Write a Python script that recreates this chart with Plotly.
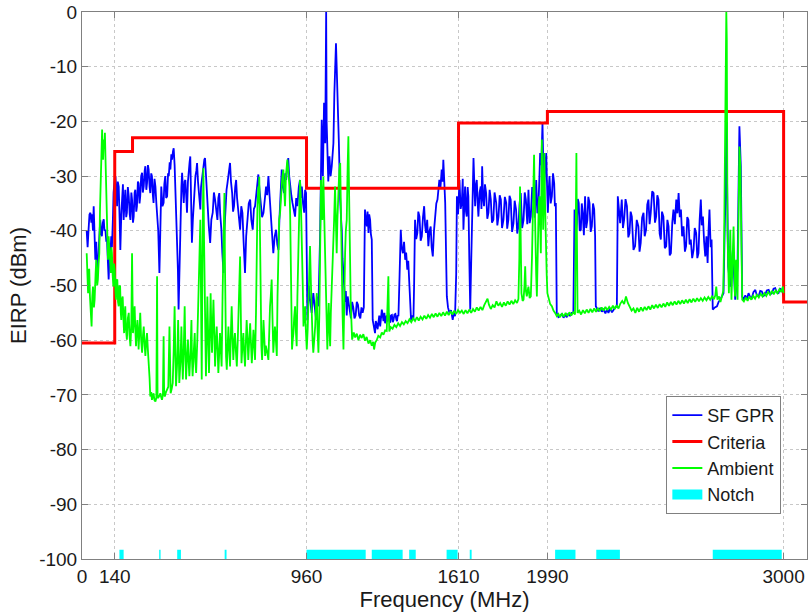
import plotly.graph_objects as go

# ---------------- data ----------------
# Criteria limit (step line, values hold until next frequency)
crit_freq = [0, 140, 216, 960, 1610, 1990, 3000, 3100]
crit_dbm = [-60.5, -25.5, -23.0, -32.2, -20.3, -18.2, -53.0, -53.0]

# Notch bands (MHz) and their bar top (dBm)
notch_start = [160, 330, 407, 610, 960, 1239, 1399, 1559, 1658, 2023, 2199, 2697]
notch_end = [178, 336, 423, 618, 1213, 1371, 1427, 1606, 1666, 2110, 2300, 2992]
notch_top = -98.3
axis_floor = -100

# SF GPR measured EIRP (MHz, dBm)
gpr_points = [
    (20,-40),(24,-43),(28,-39.8),(32,-37),(36,-36.7),(40,-38.5),(43,-37),(47,-40),(50,-35.5),(54,-41),
    (57,-45.3),(61,-42),(64,-48.9),(68,-46),(71,-44),(75,-40),(78,-38),(82,-40.5),(85,-41),(89,-38.5),
    (93,-37.9),(96,-40),(100,-39.8),(104,-42),(107,-41.6),(111,-46),(114,-48.9),(118,-44),(121,-45),
    (125,-41),(128,-43),(132,-38),(135,-33),(140,-30.5),(143,-30),(147,-33),(150,-35.5),(153,-31),
    (157,-31.9),(161,-38),(164,-43.5),(168,-37),(171,-34.9),(175,-31.5),(178,-38),(182,-35),
    (185,-32.5),(189,-37.5),(192,-36.7),(196,-32),(200,-33.7),(204,-37),(207,-38),(211,-33),
    (214,-34.3),(218,-38.5),(221,-37.4),(225,-33),(228,-32.5),(232,-36.5),(235,-35.5),(239,-31),
    (242,-31.3),(246,-35),(249,-33.7),(253,-30),(257,-29.4),(260,-33),(264,-31.9),(268,-29),(271,-28.2),
    (275,-32.5),(278,-31.3),(282,-28),(285,-28.8),(289,-32),(292,-33.1),(296,-29.5),(299,-30),
    (303,-33.5),(306,-34.9),(310,-30.5),(314,-31.9),(318,-35),(321,-36.7),(326,-40),(331,-47.7),
    (335,-38),(339,-31.9),(344,-35.5),(349,-34.9),(352,-31.5),(356,-30),(360,-34),(364,-33.7),
    (368,-29.5),(371,-30),(375,-27.5),(378,-28.8),(382,-26),(385,-27),(389,-25.5),(392,-24.9),
    (396,-28),(399,-31.9),(403,-36),(406,-39.8),(410,-47),(413,-54.4),(417,-45),(421,-38),(425,-32),
    (428,-29.4),(432,-33),(435,-34.9),(439,-31),(442,-30.7),(446,-34),(449,-36.7),(453,-31),
    (456,-28.8),(460,-27.5),(463,-26.4),(467,-34),(470,-42.2),(474,-38),(478,-34.9),(482,-31),
    (485,-30),(489,-29),(492,-27.6),(496,-31),(499,-33.1),(503,-35),(506,-36.1),(509,-32),(512,-30.7),
    (516,-29),(519,-28),(523,-27),(526,-26.7),(531,-31),(536,-34.9),(542,-39),(548,-42.2),(553,-38),
    (559,-36.7),(564,-33),(569,-34.3),(574,-37),(579,-38),(583,-34),(587,-33.1),(591,-37),(596,-39.8),
    (600,-44),(605,-47.7),(609,-40),(613,-34.9),(618,-32.5),(622,-31.3),(627,-29),(633,-27.6),
    (637,-31),(642,-33.1),(646,-36.5),(650,-35.5),(655,-32),(659,-30.7),(663,-34),(667,-35.5),
    (672,-38.5),(676,-39.8),(681,-35.5),(686,-36.7),(691,-42),(697,-47.7),(702,-41),(707,-38),
    (713,-35),(719,-34.3),(724,-38),(730,-39.8),(735,-36),(740,-35.5),(747,-32),(754,-29.7),
    (759,-32.5),(764,-34.3),(770,-37.5),(776,-36.7),(782,-33),(787,-31.9),(792,-33.5),(797,-30),
    (802,-33.5),(807,-36.7),(812,-40.5),(818,-44.1),(824,-41),(830,-39.8),(835,-42.5),(840,-43.5),
    (844,-38),(847,-34.9),(851,-30.5),(854,-28.8),(859,-32),(864,-33.1),(869,-29.5),(873,-30.7),
    (878,-28),(882,-26.7),(886,-30),(890,-31.9),(895,-33.5),(900,-34.9),(905,-36),(911,-37.4),
    (916,-34),(921,-35.5),(927,-32),(932,-30.7),(936,-34),(940,-31.9),(945,-35),(950,-36.7),
    (954,-32.5),(958,-33.1),(964,-56.3),(970,-50),(975,-52.6),(982,-55),(989,-51.4),(995,-54),
    (1001,-56.3),(1006,-52),(1011,-53.8),(1018,-41),(1025,-19.7),(1030,-30),(1035,-16.6),(1040,-24),
    (1044,0),(1046,-20),(1049,-28.2),(1053,-31),(1058,-26.4),(1063,-30),(1068,-28.2),(1071,-26),
    (1075,-24),(1079,-15),(1082,-9.9),(1086,-5.7),(1089,-10),(1092,-13),(1095,-19),(1098,-23.3),
    (1101,-30),(1104,-34.3),(1108,-38),(1111,-40),(1114,-45),(1118,-48),(1121,-51),(1125,-53),
    (1128,-51),(1132,-55.5),(1136,-52),(1140,-53),(1145,-55),(1150,-56),(1155,-53),(1160,-54),
    (1165,-56),(1170,-55.5),(1175,-53),(1180,-53.5),(1185,-55.5),(1190,-56),(1195,-54),(1200,-55),
    (1205,-54),(1208,-45),(1210,-36.1),(1214,-38),(1218,-39.2),(1221,-36.5),(1225,-40.4),(1228,-37),
    (1232,-38),(1235,-40.5),(1239,-41.6),(1243,-56.3),(1248,-57.5),(1253,-58.7),(1256,-56.5),
    (1260,-57),(1264,-58),(1267,-56.3),(1271,-55.5),(1275,-57.5),(1279,-56),(1282,-54.4),(1286,-55.5),
    (1289,-56.5),(1293,-55),(1296,-56.9),(1300,-56),(1303,-55.5),(1306,-56.6),(1310,-55),(1314,-56),
    (1318,-56.8),(1321,-55.5),(1325,-55.4),(1329,-56.7),(1332,-56.3),(1336,-55.3),(1340,-55.2),
    (1344,-56.2),(1347,-56.5),(1350,-55.4),(1353,-55.6),(1358,-48),(1363,-39.8),(1367,-43),
    (1372,-44.1),(1377,-42),(1382,-45.3),(1386,-44),(1391,-47.1),(1395,-45.5),(1400,-50.2),
    (1404,-53),(1407,-56.3),(1412,-55.5),(1417,-56.3),(1420,-50),(1424,-38),(1429,-41.5),(1434,-40.4),
    (1438,-36.5),(1443,-37.4),(1448,-41.8),(1453,-41),(1458,-37.5),(1463,-35.5),(1467,-39),
    (1471,-40.4),(1476,-38),(1481,-42.8),(1486,-40),(1491,-39.2),(1495,-43),(1500,-44.7),(1505,-40),
    (1510,-38),(1515,-35),(1520,-34.3),(1524,-32.5),(1528,-30.7),(1533,-32),(1538,-28.8),(1542,-31),
    (1545,-27),(1549,-31),(1553,-34.9),(1557,-45),(1560,-52),(1565,-54),(1571,-55),(1578,-54.5),
    (1585,-56.3),(1590,-55),(1595,-55.6),(1600,-48),(1603,-33.7),(1608,-37),(1614,-30.7),(1619,-36),
    (1624,-34.9),(1628,-30.5),(1631,-39.8),(1635,-35),(1638,-31.9),(1642,-36.5),(1645,-37.4),
    (1649,-32),(1652,-33.7),(1656,-45),(1660,-54.4),(1664,-46),(1668,-38),(1671,-31),(1674,-26.7),
    (1678,-32),(1681,-35.5),(1685,-31.5),(1688,-30.7),(1692,-35),(1695,-37.4),(1700,-33),
    (1705,-31.9),(1708,-36),(1711,-28.2),(1715,-34),(1719,-35.5),(1723,-31.5),(1728,-33.1),
    (1733,-37.8),(1738,-36.7),(1743,-32.5),(1748,-34.3),(1753,-38.5),(1759,-38),(1764,-33),
    (1771,-34.9),(1776,-39),(1781,-37.4),(1786,-33.5),(1791,-34.3),(1796,-39.5),(1802,-38),
    (1808,-33.8),(1814,-34.9),(1818,-39.6),(1823,-38),(1828,-33.6),(1833,-34.3),(1839,-40.2),
    (1845,-38.6),(1850,-34.5),(1856,-36.1),(1861,-40.5),(1866,-39.2),(1871,-35),(1876,-33.1),
    (1882,-39.5),(1888,-38),(1893,-33),(1898,-34.3),(1904,-38.8),(1909,-32.5),(1914,-38.6),
    (1919,-37.4),(1925,-32),(1930,-33.7),(1936,-37.6),(1942,-30.7),(1947,-36.8),(1952,-34.9),
    (1956,-30),(1959,-25.8),(1964,-28),(1969,-20.3),(1972,-27),(1976,-31.9),(1980,-29),(1985,-25.8),
    (1988,-31),(1992,-36.7),(1995,-33),(1999,-30),(2004,-35),(2009,-33.7),(2014,-29.5),(2019,-31.3),
    (2022,-35.5),(2026,-34.9),(2030,-55),
    (2037,-55.8),(2044,-55.6),(2052,-55.2),(2059,-55.9),(2066,-55.3),(2073,-55.8),(2080,-55.1),
    (2087,-55.6),(2094,-55.0),(2101,-55),(2106,-36.1),(2111,-40.5),(2116,-38.6),(2120,-34.2),
    (2124,-34.9),(2128,-40),(2133,-39.8),(2137,-35),(2141,-36.7),(2146,-40.8),(2151,-33.7),
    (2156,-39.5),(2161,-38),(2165,-33.8),(2170,-34.9),(2175,-40.2),(2180,-39.2),(2185,-35),
    (2190,-36.1),(2194,-41),(2197,-53.8),
    (2208,-54.7),(2216,-54.1),(2223,-54.8),(2230,-54.4),(2238,-55.1),(2245,-54.3),(2251,-55),
    (2258,-54.2),(2266,-54.9),(2273,-54.4),(2280,-54.0),(2287,-53.8),(2291,-33.7),
    (2301,-38.6),(2305,-34.8),(2308,-34.3),(2313,-39.5),(2318,-38),(2324,-34.2),(2330,-35.5),
    (2336,-41.2),(2341,-40.4),(2346,-36.5),(2351,-37.4),(2358,-43.5),(2365,-42.8),(2372,-38),
    (2379,-39.2),(2384,-43.8),(2389,-42.2),(2395,-37.6),(2401,-36.7),(2406,-41),(2412,-39.8),
    (2417,-35.2),(2422,-34.3),(2427,-38.8),(2432,-36.7),(2438,-32.8),(2444,-33.1),(2450,-38.5),
    (2455,-37.4),(2460,-33.5),(2465,-34.3),(2470,-40.5),(2475,-41.6),(2480,-36.5),(2486,-37.4),
    (2492,-43.2),(2498,-42.8),(2503,-38),(2508,-39.2),(2513,-44.5),(2518,-44.1),(2524,-38.5),
    (2529,-36.1),(2535,-38.8),(2541,-34.3),(2546,-36.8),(2551,-33.1),(2556,-37.5),(2561,-36.1),
    (2566,-41),(2572,-39.2),(2578,-43.8),(2583,-42.8),(2588,-37.5),(2593,-38),(2598,-42.5),
    (2603,-41.6),(2609,-45),(2615,-43.5),(2620,-39.5),(2626,-40.4),(2631,-45),(2636,-44.1),
    (2641,-38),(2646,-34.3),(2650,-39),(2655,-37.4),(2660,-42),(2665,-44.7),(2670,-41),(2675,-45.9),
    (2679,-40),(2683,-36.1),(2688,-43),(2692,-41.6),
    (2697,-54.4),(2706,-54.0),(2715,-53.8),(2722,-53.0),(2729,-52.6),
    (2736,-52.0),(2743,-51.4),(2748,-40),(2752,-33.1),(2755,-20),(2758,-28),(2763,-46.5),(2772,-50.2),
    (2783,-43.5),(2793,-52.6),(2803,-46.5),(2808,-30),(2811,-20.9),(2817,-28.2),(2823,-52),
    (2830,-52.6),(2836,-51.8),(2843,-52.5),(2850,-51.4),(2857,-52.1),(2864,-52.3),(2871,-51.2),
    (2879,-50.8),(2886,-51.9),(2893,-52),(2900,-51.0),(2907,-51.1),(2914,-51.9),(2921,-51.7),
    (2928,-50.9),(2936,-50.8),(2943,-51.6),(2950,-51.4),(2957,-50.6),(2964,-50.5),(2971,-51.3),
    (2978,-51.4),(2985,-50.6),(2993,-50.8),(3000,-52),
]

# Ambient measured EIRP (MHz, dBm)
amb_points = [
    (20,-44.1),(23,-49),(26,-51.4),(29,-47),(31,-47.1),(34,-52),(37,-53.8),(41,-57.5),(44,-52),(47,-50.2),
    (51,-54),(54,-52.6),(58,-48),(61,-45.3),(65,-50),(68,-48.9),(71,-46),(74,-44.1),(77,-36),(80,-28.8),
    (83,-24),(86,-21.5),(88,-25),(90,-27),(92,-24.5),(94,-23.3),(96,-25),(98,-22.1),(100,-26),(103,-31.9),
    (105,-36),(107,-39.8),(109,-43),(111,-45.3),(114,-41),(117,-42.8),(120,-46),(123,-47.7),(126,-43),
    (128,-44.1),(131,-48),(134,-50.2),(137,-46),(140,-47.1),(143,-51),(145,-52.6),(148,-49),(151,-48.9),
    (154,-53),(157,-53.8),(160,-50),(163,-50.2),(166,-55),(168,-56.3),(171,-52.5),(174,-52),(177,-56),
    (180,-58.7),(183,-55),(185,-53.8),(188,-58),(192,-59.9),(196,-56),(200,-55),(203,-59),(207,-61.1),
    (211,-57),(214,-44.1),(216,-52),(218,-58.7),(222,-56),(225,-53.8),(228,-58),(231,-61.1),(234,-58),
    (237,-56.3),(240,-59),(242,-61.7),(246,-58),(249,-55),(253,-60),(257,-62.3),(261,-59),(264,-57.5),
    (268,-61),(271,-62.9),(275,-60),(278,-58.7),(282,-62),(285,-63.6),(289,-67),(292,-70.3),(296,-69.5),
    (299,-70.9),(303,-70),(306,-69.7),(310,-71),(314,-71.2),(318,-70.5),(321,-48.3),(323,-70),
    (325,-70.6),(330,-70.2),(335,-69.7),(339,-70.5),(342,-70.9),(346,-70),(349,-59.3),(351,-69),
    (354,-70.3),(359,-69.5),(364,-69.1),(369,-68.5),(374,-57.5),(376,-68),(379,-69.7),(384,-68.8),
    (388,-67.8),(392,-62),(396,-53.8),(399,-62),(402,-68.4),(407,-64),(411,-56.3),(414,-63),(416,-67.8),
    (421,-64),(425,-57.5),(428,-63),(431,-67.2),(435,-62),(439,-53.8),(442,-62),(445,-67.2),(449,-63),
    (453,-59.9),(456,-64),(459,-66.6),(464,-62),(468,-56.3),(470,-63),(473,-66.6),(478,-62),(482,-58.7),
    (485,-64),(488,-66),(493,-60),(499,-52.6),(502,-45),(506,-38),(509,-50),(512,-67.2),(515,-45),
    (519,-28.5),(522,-42),(525,-56.3),(530,-66.6),(533,-60),(536,-52),(540,-60),(543,-66),(547,-58),
    (550,-51.4),(553,-58),(556,-62.3),(559,-57),(562,-52.6),(566,-59),(569,-64.8),(573,-60),(576,-57.5),
    (580,-62),(583,-66),(587,-62),(590,-58.7),(594,-62),(597,-64.8),(601,-52),(605,-38.6),(609,-33.1),
    (611,-45),(613,-61.1),(616,-63),(619,-65.4),(622,-60),(626,-57.5),(630,-62),(633,-64.8),(637,-58),
    (640,-53.8),(644,-60),(647,-63.6),(651,-60),(654,-58.7),(658,-62),(662,-64.8),(666,-60),(669,-55.6),
    (672,-50),(676,-44.7),(679,-55),(682,-64.2),(686,-61),(690,-58.7),(693,-62),(697,-64.8),(701,-60),
    (704,-56.3),(708,-60),(711,-63.6),(715,-60),(719,-56.9),(722,-60),(726,-64.2),(730,-61),(733,-58.1),
    (737,-61),(740,-63.6),(744,-55),(747,-44.1),(750,-36),(754,-31.9),(756,-35),(758,-30.1),(761,-45),
    (764,-57.5),(767,-61),(770,-63.6),(773,-60),(776,-56.3),(780,-60),(783,-62.9),(786,-61),(790,-61.7),
    (793,-62.5),(797,-63.6),(800,-58),(804,-53.8),(807,-52),(811,-48.9),(814,-55),(818,-62.3),(821,-60),
    (825,-57.5),(829,-60),(833,-62.9),(836,-52),(840,-41.6),(843,-38),(847,-36.7),(850,-33),(854,-31.9),
    (857,-30),(861,-28.8),(864,-32),(868,-35.5),(872,-30),(878,-27),(882,-29),(887,-31.9),(890,-37),
    (893,-44.1),(896,-55),(898,-61.7),(901,-60),(904,-58.7),(907,-56),(911,-53.8),(914,-58),(918,-61.1),
    (921,-52),(925,-44.1),(928,-37),(932,-30.7),(935,-33),(940,-41),(944,-50),(947,-57.5),(951,-55),
    (954,-53.8),(957,-58),(961,-61.7),(965,-58),(968,-53.8),(972,-48),(975,-42.8),(979,-50),(982,-56.3),
    (986,-60),(989,-62.3),(993,-60),(997,-57.5),(1000,-54),(1004,-51.4),(1007,-58),(1011,-62.3),
    (1015,-55),(1018,-44.1),(1020,-35),(1022,-30.7),(1025,-36),(1028,-38),(1030,-33),(1032,-30.1),
    (1035,-36),(1038,-41),(1041,-46),(1044,-50.2),(1047,-56),(1049,-61.7),(1052,-57),(1055,-53.2),
    (1058,-58),(1061,-61.1),(1064,-55),(1068,-50.2),(1071,-48),(1075,-45.3),(1078,-38),(1082,-31.9),
    (1085,-38),(1089,-44.1),(1092,-38),(1096,-31.9),(1100,-29),(1104,-27.6),(1107,-38),(1111,-47.1),
    (1114,-55),(1118,-61.7),(1121,-52),(1125,-44.1),(1128,-40),(1132,-38),(1136,-28),(1139,-22.7),
    (1141,-30),(1143,-38),(1146,-46),(1149,-53.2),
    (1155,-59.9),(1162,-58.6),(1168,-59.5),(1175,-58.8),(1182,-60.0),(1189,-59.0),(1196,-59.6),
    (1203,-58.9),(1210,-60.1),(1217,-59.4),(1225,-60.6),(1232,-60.0),(1239,-61.0),(1245,-60.3),
    (1249,-61.7),(1254,-60.4),(1260,-60.0),(1267,-59.2),(1275,-59.5),(1282,-58.6),(1289,-59.0),
    (1296,-58.2),(1303,-58.3),(1308,-52),(1310,-48.3),(1312,-55),(1314,-58.4),(1320,-57.6),(1328,-57.9),
    (1336,-57.2),(1344,-57.6),(1352,-56.9),(1360,-57.4),(1368,-56.7),(1376,-57.1),(1384,-56.5),
    (1392,-56.9),(1400,-56.2),(1408,-56.7),(1416,-56.0),(1424,-56.5),(1432,-55.8),(1440,-56.4),
    (1448,-55.7),(1456,-56.2),(1464,-55.5),(1472,-56.1),(1480,-55.4),(1488,-55.9),(1496,-55.2),
    (1504,-55.8),(1512,-55.1),(1520,-55.7),(1528,-55.0),(1536,-55.6),(1544,-54.9),(1552,-55.5),
    (1560,-54.8),(1568,-55.4),(1576,-54.7),(1584,-55.3),(1592,-54.6),(1600,-55.2),(1608,-54.5),
    (1616,-55.0),(1624,-54.6),(1632,-55.2),(1640,-54.5),(1648,-55.1),(1656,-54.4),(1664,-55.0),
    (1672,-54.3),(1680,-54.8),(1688,-54.0),(1696,-54.6),(1704,-53.9),(1712,-54.5),(1720,-53.6),
    (1728,-53.0),(1734,-52.4),(1740,-53.5),(1748,-54.3),(1756,-53.6),(1764,-54.0),(1772,-52.9),
    (1780,-53.7),(1788,-53.2),(1796,-53.9),(1804,-53.1),(1812,-53.7),(1820,-52.9),(1828,-53.5),
    (1836,-52.8),(1844,-53.4),(1852,-52.7),(1860,-53.2),(1866,-52.5),(1870,-45),(1873,-31.9),(1876,-45),
    (1879,-51.4),(1884,-52.8),(1888,-52.6),(1892,-50),(1895,-46.5),(1898,-51),(1902,-52),(1906,-50.8),
    (1909,-50.2),(1914,-52.3),(1919,-52),(1924,-45),(1928,-36.7),(1933,-26.1),(1936,-35),(1939,-44.1),
    (1942,-48),(1945,-52),(1948,-44),(1950,-38),(1953,-35),(1956,-33.7),(1959,-38),(1962,-44.1),
    (1966,-23.3),(1969,-30),(1972,-39.8),(1975,-33),(1977,-25.8),(1980,-35),(1983,-44.1),(1987,-48),
    (1990,-51.4),(1996,-52.6),(2002,-53.4),(2009,-53.8),(2016,-54.6),(2023,-55.0),(2030,-55.6),
    (2037,-55.2),(2044,-55.8),(2052,-55.1),(2060,-55.7),(2068,-55.0),(2076,-55.6),(2084,-54.9),
    (2092,-55.5),(2100,-54.9),(2108,-55.3),(2111,-40),(2114,-25.8),(2116,-40),(2119,-55.0),(2126,-54.6),
    (2134,-55.3),(2142,-54.5),(2150,-55.1),(2158,-54.4),(2166,-55.0),(2174,-54.3),(2182,-54.9),
    (2190,-54.2),(2198,-54.8),(2206,-54.1),(2214,-54.7),(2222,-54.0),(2230,-54.6),(2238,-53.9),
    (2246,-54.5),(2254,-53.9),(2262,-54.4),(2270,-53.7),(2278,-54.3),(2286,-53.6),(2294,-54.2),
    (2302,-53.3),(2310,-52.8),(2318,-53.4),(2326,-52.0),(2334,-53.2),(2342,-53.8),(2350,-54.6),
    (2358,-54.2),(2366,-55.0),(2374,-54.1),(2382,-54.8),(2390,-54.0),(2398,-54.7),(2406,-53.9),
    (2414,-54.5),(2422,-53.8),(2430,-54.4),(2438,-53.6),(2446,-54.2),(2454,-53.5),(2462,-54.1),
    (2470,-53.4),(2478,-54.0),(2486,-53.3),(2494,-53.9),(2502,-53.1),(2510,-53.7),(2518,-53.0),
    (2526,-53.6),(2534,-52.9),(2542,-53.5),(2550,-52.8),(2558,-53.4),(2566,-52.7),(2574,-53.3),
    (2582,-52.6),(2590,-53.2),(2598,-52.5),(2606,-53.1),(2614,-52.4),(2622,-53.0),(2630,-52.3),
    (2638,-52.9),(2646,-52.3),(2654,-52.8),(2662,-52.2),(2670,-52.7),(2678,-52.1),(2686,-52.6),
    (2694,-52.0),(2702,-52.5),(2708,-51.8),(2712,-50.2),(2717,-52.6),(2724,-52.0),(2730,-53.0),
    (2736,-52.2),(2742,-51.0),(2746,-40.4),(2750,-26.4),(2753,-8),(2755,0),(2757,-5),(2760,-40.4),
    (2766,-51.4),(2772,-39.8),(2777,-52.6),(2786,-39.2),(2792,-52.0),(2797,-45.3),(2803,-52.6),
    (2808,-28.2),(2811,-24.6),(2815,-28),(2819,-45),(2823,-52.6),(2830,-52.9),(2838,-52.2),(2846,-52.8),
    (2854,-52.0),(2862,-52.6),(2870,-51.9),(2878,-52.4),(2886,-51.7),(2894,-52.2),(2902,-51.5),
    (2910,-52.0),(2918,-51.4),(2926,-51.9),(2934,-51.2),(2942,-51.7),(2950,-51.0),(2958,-51.6),
    (2966,-50.9),(2974,-51.4),(2982,-50.7),(2990,-51.2),(2997,-50.2),(3000,-51.4),
]

x_ticks = [0, 140, 960, 1610, 1990, 3000]
y_ticks = [-100, -90, -80, -70, -60, -50, -40, -30, -20, -10, 0]

gpr_freq = [p[0] for p in gpr_points]
gpr_dbm = [p[1] for p in gpr_points]
amb_freq = [p[0] for p in amb_points]
amb_dbm = [p[1] for p in amb_points]

# notch rectangles as one filled polygon trace
notch_x, notch_y = [], []
for s, e in zip(notch_start, notch_end):
    notch_x += [s, e, e, s, s, None]
    notch_y += [axis_floor, axis_floor, notch_top, notch_top, axis_floor, None]

FONT = "Liberation Sans, Arial, sans-serif"
TXT = "#1a1a1a"

fig = go.Figure()
fig.add_trace(go.Scatter(x=gpr_freq, y=gpr_dbm, mode="lines", name="SF GPR",
                         line=dict(color="#0000FF", width=1.8)))
fig.add_trace(go.Scatter(x=crit_freq, y=crit_dbm, mode="lines", name="Criteria",
                         line=dict(color="#FF0000", width=3, shape="hv")))
fig.add_trace(go.Scatter(x=amb_freq, y=amb_dbm, mode="lines", name="Ambient",
                         line=dict(color="#00FF00", width=1.8)))
fig.add_trace(go.Scatter(x=notch_x, y=notch_y, mode="lines", name="Notch", fill="toself",
                         fillcolor="#00FFFF", line=dict(color="#00FFFF", width=0),
                         showlegend=False))
# legend proxy for the notch band (wide filled swatch)
fig.add_trace(go.Scatter(x=[None], y=[None], mode="lines", name="Notch",
                         line=dict(color="#00FFFF", width=18)))

axis_common = dict(showline=True, linecolor="#808080", linewidth=1, mirror="ticks",
                   ticks="inside", ticklen=6, tickcolor="#808080",
                   showgrid=True, gridcolor="#C8C8C8", griddash="dot", gridwidth=1,
                   zeroline=False, tickfont=dict(family=FONT, size=19, color=TXT))

fig.update_layout(
    width=808, height=613,
    margin=dict(l=82, r=1, t=12, b=54, autoexpand=False),
    paper_bgcolor="white", plot_bgcolor="white",
    font=dict(family=FONT, color=TXT),
    showlegend=True,
    legend=dict(x=0.806, y=0.298, xanchor="left", yanchor="top",
                bgcolor="white", bordercolor="#808080", borderwidth=1,
                font=dict(family=FONT, size=18, color=TXT),
                tracegroupgap=0),
    xaxis=dict(range=[0, 3100], tickvals=x_ticks, ticktext=[str(v) for v in x_ticks],
               title=dict(text="Frequency (MHz)", font=dict(family=FONT, size=22, color=TXT),
                          standoff=2),
               **axis_common),
    yaxis=dict(range=[-100, 0], tickvals=y_ticks, ticktext=[str(v) for v in y_ticks],
               title=dict(text="EIRP (dBm)", font=dict(family=FONT, size=22, color=TXT),
                          standoff=6),
               **axis_common),
)

fig.write_html("out.html")
